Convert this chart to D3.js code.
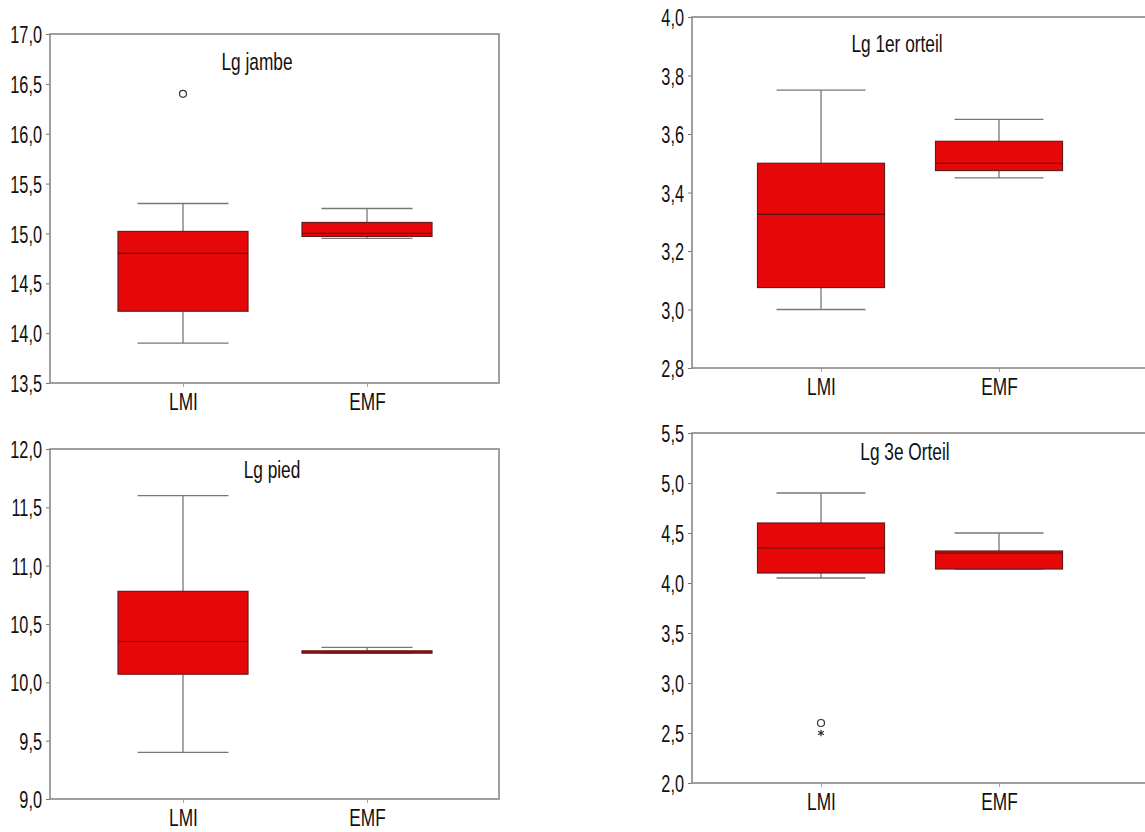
<!DOCTYPE html>
<html>
<head>
<meta charset="utf-8">
<script src="https://cdn.jsdelivr.net/npm/d3@7"></script>
<style>
  body { margin: 0; background: #fff; }
  svg text { font-family: "Liberation Sans", Arial, sans-serif; fill: #111; }
</style>
</head>
<body>
<script>
// groups on the x axis
var categories = ['LMI', 'EMF'];
var titles = ['Lg jambe', 'Lg 1er orteil', 'Lg pied', 'Lg 3e Orteil'];

// box stats per group: [lower whisker, Q1, median, Q3, upper whisker]
var jambeLMI = [13.9, 14.22, 14.8, 15.02, 15.3],
	jambeEMF = [14.95, 14.97, 15.0, 15.11, 15.25];
var orteil1LMI = [3.0, 3.075, 3.325, 3.5, 3.75],
	orteil1EMF = [3.45, 3.475, 3.5, 3.575, 3.65];
var piedLMI = [9.4, 10.07, 10.35, 10.78, 11.6],
	piedEMF = [10.25, 10.25, 10.26, 10.27, 10.3];
var orteil3LMI = [4.05, 4.1, 4.35, 4.6, 4.9],
	orteil3EMF = [4.14, 4.14, 4.3, 4.32, 4.5];

// outliers (circle) and extremes (star), LMI group only
var jambeOutliers = [16.4];
var orteil3Outliers = [2.6];
var orteil3Extremes = [2.5];

// y tick values
var jambeTicks = [13.5, 14.0, 14.5, 15.0, 15.5, 16.0, 16.5, 17.0];
var orteil1Ticks = [2.8, 3.0, 3.2, 3.4, 3.6, 3.8, 4.0];
var piedTicks = [9.0, 9.5, 10.0, 10.5, 11.0, 11.5, 12.0];
var orteil3Ticks = [2.0, 2.5, 3.0, 3.5, 4.0, 4.5, 5.0, 5.5];

var fr = d3.formatLocale({decimal: ',', thousands: '.', grouping: [3], currency: ['', '']}).format('.1f');

// no narrow font installed, so squeeze Liberation Sans horizontally
function narrow(k) {
	return function(sel) {
		sel.each(function() {
			var t = d3.select(this), x = +t.attr('x') || 0;
			t.attr('x', x / k).attr('transform', 'scale(' + k + ',1)');
		});
	};
}

var panels = [
	{title: titles[0], stats: [jambeLMI, jambeEMF], ticks: jambeTicks, out: jambeOutliers, ext: [],
		left: 50, right: 499, top: 34, bottom: 383, c0: 133, step: 184, bw: 130, tx: 257, ty: 36},
	{title: titles[1], stats: [orteil1LMI, orteil1EMF], ticks: orteil1Ticks, out: [], ext: [],
		left: 692, right: 1170, top: 17, bottom: 368, c0: 129, step: 178, bw: 127, tx: 897, ty: 35},
	{title: titles[2], stats: [piedLMI, piedEMF], ticks: piedTicks, out: [], ext: [],
		left: 50, right: 499, top: 449, bottom: 799, c0: 133, step: 184, bw: 130, tx: 272, ty: 29},
	{title: titles[3], stats: [orteil3LMI, orteil3EMF], ticks: orteil3Ticks, out: orteil3Outliers, ext: orteil3Extremes,
		left: 692, right: 1170, top: 433, bottom: 783, c0: 129, step: 178, bw: 127, tx: 905, ty: 27}
];

var svg = d3.select('body').append('svg').attr('width', 1145).attr('height', 832);

panels.forEach(function(p) {
	var y = d3.scaleLinear().domain(d3.extent(p.ticks)).range([p.bottom, p.top]);
	var x = d3.scalePoint().domain(categories).range([p.left + p.c0, p.left + p.c0 + p.step]);
	var g = svg.append('g');

	// y axis
	var ya = g.append('g').attr('transform', 'translate(' + p.left + ',0)')
		.call(d3.axisLeft(y).tickValues(p.ticks).tickFormat(fr).tickSize(4).tickPadding(4));
	ya.select('.domain').remove();
	ya.selectAll('line').attr('stroke', '#777');
	ya.selectAll('text').style('font-size', '24px').attr('dy', '0.36em').call(narrow(0.68));

	// x axis
	var xa = g.append('g').attr('transform', 'translate(0,' + p.bottom + ')')
		.call(d3.axisBottom(x).tickSize(4).tickPadding(4));
	xa.select('.domain').remove();
	xa.selectAll('line').attr('stroke', '#aaa');
	xa.selectAll('text').style('font-size', '24px').attr('dy', '0.78em').call(narrow(0.72));

	// frame
	g.append('rect').attr('x', p.left).attr('y', p.top)
		.attr('width', p.right - p.left).attr('height', p.bottom - p.top)
		.attr('fill', 'none').attr('stroke', '#888').attr('stroke-width', 1.6);

	g.append('text').attr('x', p.tx).attr('y', p.top + p.ty)
		.attr('text-anchor', 'middle').style('font-size', '24px').text(p.title).call(narrow(0.72));

	var cap = p.bw * 0.35;
	categories.forEach(function(c, i) {
		var s = p.stats[i], cx = x(c);
		// whiskers
		g.append('line').attr('x1', cx).attr('x2', cx).attr('y1', y(s[3])).attr('y2', y(s[4]))
			.attr('stroke', '#777').attr('stroke-width', 1.3);
		g.append('line').attr('x1', cx).attr('x2', cx).attr('y1', y(s[1])).attr('y2', y(s[0]))
			.attr('stroke', '#777').attr('stroke-width', 1.3);
		g.append('line').attr('x1', cx - cap).attr('x2', cx + cap).attr('y1', y(s[4])).attr('y2', y(s[4]))
			.attr('stroke', '#777').attr('stroke-width', 1.3);
		g.append('line').attr('x1', cx - cap).attr('x2', cx + cap).attr('y1', y(s[0])).attr('y2', y(s[0]))
			.attr('stroke', '#777').attr('stroke-width', 1.3);
		// box
		g.append('rect').attr('x', cx - p.bw / 2).attr('y', y(s[3]))
			.attr('width', p.bw).attr('height', Math.max(y(s[1]) - y(s[3]), 1))
			.attr('fill', '#e60808').attr('stroke', '#6a1a1a').attr('stroke-width', 1.2);
		g.append('line').attr('x1', cx - p.bw / 2).attr('x2', cx + p.bw / 2).attr('y1', y(s[2])).attr('y2', y(s[2]))
			.attr('stroke', '#5a1010').attr('stroke-width', 1.2);
	});

	var cx0 = x(categories[0]);
	p.out.forEach(function(v) {
		g.append('circle').attr('cx', cx0).attr('cy', y(v)).attr('r', 3.5)
			.attr('fill', 'none').attr('stroke', '#333').attr('stroke-width', 1.2);
	});
	p.ext.forEach(function(v) {
		g.append('path').attr('d', d3.symbol(d3.symbolAsterisk, 30)())
			.attr('transform', 'translate(' + cx0 + ',' + y(v) + ')')
			.attr('fill', 'none').attr('stroke', '#333').attr('stroke-width', 1.2);
	});
});
</script>
</body>
</html>
